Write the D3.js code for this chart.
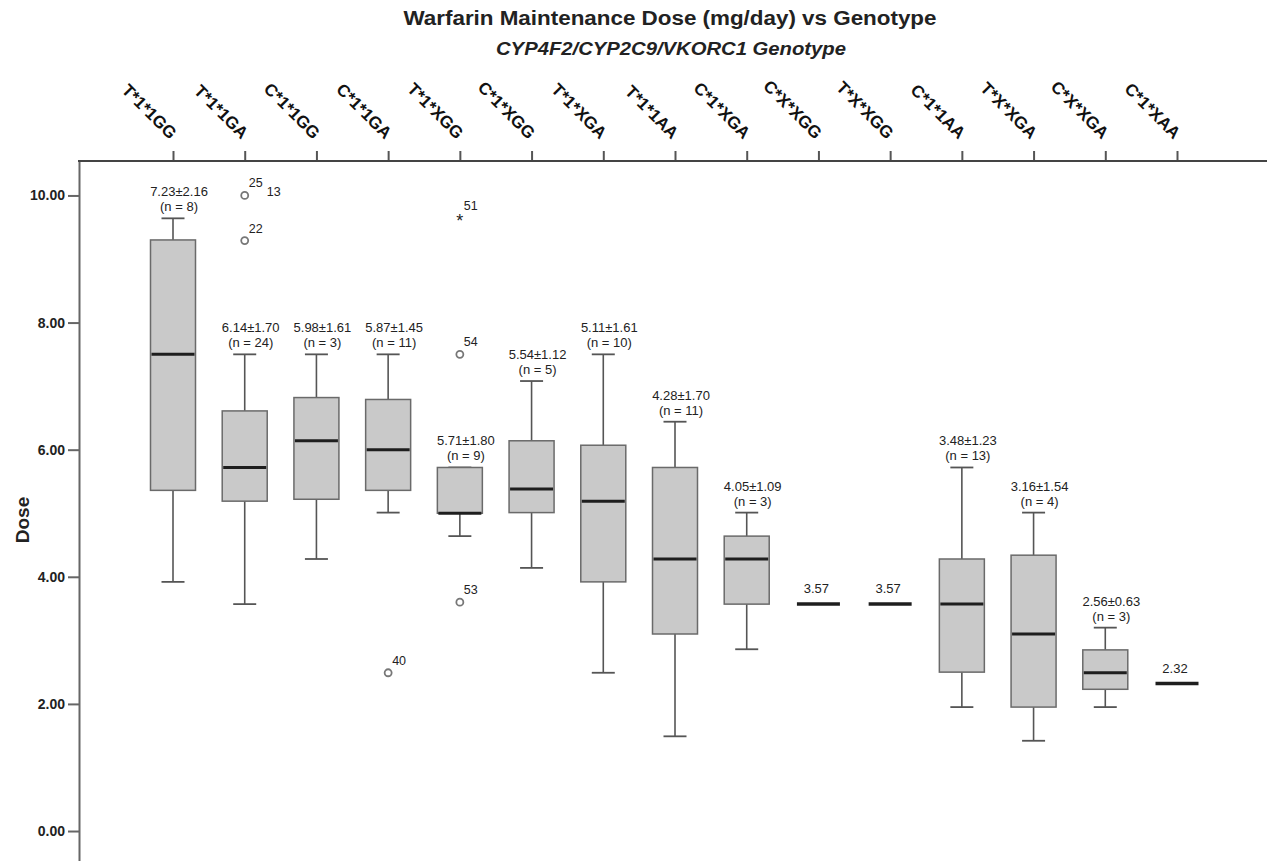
<!DOCTYPE html>
<html>
<head>
<meta charset="utf-8">
<script src="https://cdn.jsdelivr.net/npm/d3@7"></script>
<style>
  html, body { margin: 0; padding: 0; background: #fff; }
  svg { display: block; font-family: "Liberation Sans", Arial, sans-serif; }
</style>
</head>
<body>
<svg id="chart" width="1267" height="861"></svg>
<script>
// ---------------- data ----------------
const categories = ["T*1*1GG","T*1*1GA","C*1*1GG","C*1*1GA","T*1*XGG","C*1*XGG","T*1*XGA","T*1*1AA","C*1*XGA","C*X*XGG","T*X*XGG","C*1*1AA","T*X*XGA","C*X*XGA","C*1*XAA"];
const whiskerLow  = [3.92,3.57,4.28,5.01,4.64,4.14,2.49,1.49,2.86,3.57,3.57,1.95,1.42,1.95,2.32];
const q1          = [5.36,5.19,5.22,5.36,5.00,5.01,3.92,3.10,3.57,3.57,3.57,2.50,1.95,2.23,2.32];
const medians     = [7.50,5.72,6.14,6.00,5.00,5.38,5.19,4.28,4.28,3.57,3.57,3.57,3.10,2.49,2.32];
const q3          = [9.30,6.61,6.82,6.79,5.72,6.14,6.07,5.72,4.64,3.57,3.57,4.28,4.34,2.85,2.32];
const whiskerHigh = [9.64,7.50,7.50,7.50,5.72,7.08,7.50,6.44,5.01,3.57,3.57,5.72,5.01,3.20,2.32];
const means       = [7.23,6.14,5.98,5.87,5.71,5.54,5.11,4.28,4.05,3.57,3.57,3.48,3.16,2.56,2.32];
const sds         = [2.16,1.70,1.61,1.45,1.80,1.12,1.61,1.70,1.09,null,null,1.23,1.54,0.63,null];
const counts      = [8,24,3,11,9,5,10,11,3,1,1,13,4,3,1];

const outlierGroup = ["T*1*1GA","T*1*1GA","T*1*1GA","C*1*1GA","T*1*XGG","T*1*XGG","T*1*XGG"];
const outlierValue = [10.00,10.00,9.29,2.49,9.64,7.50,3.60];
const outlierId    = ["25","13","22","40","51","54","53"];
const outlierKind  = ["mild","mild","mild","mild","extreme","mild","mild"];

const yTicks = [0,2,4,6,8,10];
const titleText = "Warfarin Maintenance Dose (mg/day) vs Genotype";
const subtitleText = "CYP4F2/CYP2C9/VKORC1 Genotype";
const yTitle = "Dose";

// ---------------- layout ----------------
const svg = d3.select("#chart");
const plotLeft = 79, plotRight = 1267, plotTop = 161;
const x = d3.scalePoint().domain(categories).range([173, 1177]);
const y = d3.scaleLinear().domain([-0.5, 10.55]).range([862.8, 160.5]);
const boxW = 45, capW = 23;

// titles
svg.append("text").attr("x", 670).attr("y", 25).attr("text-anchor", "middle")
  .attr("font-size", 20).attr("font-weight", "bold").attr("fill", "#222")
  .attr("textLength", 533).attr("lengthAdjust", "spacingAndGlyphs").text(titleText);
svg.append("text").attr("x", 671).attr("y", 55).attr("text-anchor", "middle")
  .attr("font-size", 18).attr("font-weight", "bold").attr("font-style", "italic").attr("fill", "#222")
  .attr("textLength", 350).attr("lengthAdjust", "spacingAndGlyphs").text(subtitleText);

// y axis
const yAxis = svg.append("g").attr("transform", `translate(${plotLeft},0)`)
  .call(d3.axisLeft(y).tickValues(yTicks).tickFormat(d3.format(".2f")).tickSize(11).tickSizeOuter(0));
yAxis.select(".domain").attr("stroke", "#666").attr("stroke-width", 2);
yAxis.selectAll(".tick line").attr("stroke", "#666").attr("stroke-width", 2);
yAxis.selectAll(".tick text").attr("font-size", 14).attr("font-weight", "bold")
  .attr("font-family", "Liberation Sans, Arial, sans-serif").attr("fill", "#222");

svg.append("text").attr("transform", `translate(29,520) rotate(-90)`).attr("text-anchor", "middle")
  .attr("font-size", 19).attr("font-weight", "bold").attr("fill", "#222").text(yTitle);

// top axis
const xAxis = svg.append("g").attr("transform", `translate(0,${plotTop})`)
  .call(d3.axisTop(x).tickSize(10).tickSizeOuter(0));
xAxis.select(".domain").remove();
xAxis.selectAll(".tick line").attr("stroke", "#555").attr("stroke-width", 2);
xAxis.selectAll(".tick text")
  .attr("x", 0).attr("y", 0).attr("dy", 0)
  .attr("text-anchor", "end")
  .attr("transform", "translate(-4,-21) rotate(45)")
  .attr("font-size", 17).attr("font-weight", "bold")
  .attr("font-family", "Liberation Sans, Arial, sans-serif").attr("fill", "#111");
svg.append("line").attr("x1", plotLeft - 1).attr("x2", plotRight).attr("y1", plotTop).attr("y2", plotTop)
  .attr("stroke", "#444").attr("stroke-width", 2);

// boxes
const groups = categories.map((c, i) => ({
  cat: c, lo: whiskerLow[i], q1: q1[i], med: medians[i], q3: q3[i], hi: whiskerHigh[i],
  mean: means[i], sd: sds[i], n: counts[i]
}));

const g = svg.append("g");
groups.forEach(d => {
  const cx = x(d.cat);
  const single = d.lo === d.hi;
  if (!single) {
    g.append("line").attr("x1", cx).attr("x2", cx).attr("y1", y(d.q3)).attr("y2", y(d.hi))
      .attr("stroke", "#555").attr("stroke-width", 1.6);
    g.append("line").attr("x1", cx).attr("x2", cx).attr("y1", y(d.q1)).attr("y2", y(d.lo))
      .attr("stroke", "#555").attr("stroke-width", 1.6);
    g.append("line").attr("x1", cx - capW / 2).attr("x2", cx + capW / 2).attr("y1", y(d.hi)).attr("y2", y(d.hi))
      .attr("stroke", "#555").attr("stroke-width", 1.8);
    g.append("line").attr("x1", cx - capW / 2).attr("x2", cx + capW / 2).attr("y1", y(d.lo)).attr("y2", y(d.lo))
      .attr("stroke", "#555").attr("stroke-width", 1.8);
    g.append("rect").attr("x", cx - boxW / 2).attr("y", y(d.q3)).attr("width", boxW)
      .attr("height", y(d.q1) - y(d.q3)).attr("fill", "#c9c9c9").attr("stroke", "#6a6a6a").attr("stroke-width", 1.5);
  }
  g.append("line").attr("x1", cx - boxW / 2 + 1).attr("x2", cx + boxW / 2 - 1).attr("y1", y(d.med)).attr("y2", y(d.med))
    .attr("stroke", "#1e1e1e").attr("stroke-width", single ? 3.5 : 3);

  if (d.sd === null) {
    g.append("text").attr("x", cx - 2).attr("y", y(d.hi) - 11).attr("text-anchor", "middle")
      .attr("font-size", 13).attr("fill", "#222").text(d.mean.toFixed(2));
  } else {
    g.append("text").attr("x", cx + 6).attr("y", y(d.hi) - 22).attr("text-anchor", "middle")
      .attr("font-size", 13).attr("fill", "#222").text(`${d.mean.toFixed(2)}±${d.sd.toFixed(2)}`);
    g.append("text").attr("x", cx + 6).attr("y", y(d.hi) - 7).attr("text-anchor", "middle")
      .attr("font-size", 13).attr("fill", "#222").text(`(n = ${d.n})`);
  }
});

// outliers
const seen = {};
outlierGroup.forEach((c, i) => {
  const cx = x(c), cy = y(outlierValue[i]);
  const key = c + "_" + outlierValue[i];
  const dup = seen[key] || 0;
  seen[key] = dup + 1;
  if (outlierKind[i] === "extreme") {
    g.append("text").attr("x", cx).attr("y", cy + 9).attr("text-anchor", "middle")
      .attr("font-size", 18).attr("fill", "#222").text("*");
  } else if (dup === 0) {
    g.append("circle").attr("cx", cx).attr("cy", cy).attr("r", 3.5)
      .attr("fill", "#fff").attr("stroke", "#777").attr("stroke-width", 1.8);
  }
  g.append("text")
    .attr("x", cx + (dup ? 22 : 4))
    .attr("y", cy + (dup ? 1 : -8))
    .attr("font-size", 12.5).attr("fill", "#222").text(outlierId[i]);
});
</script>
</body>
</html>
